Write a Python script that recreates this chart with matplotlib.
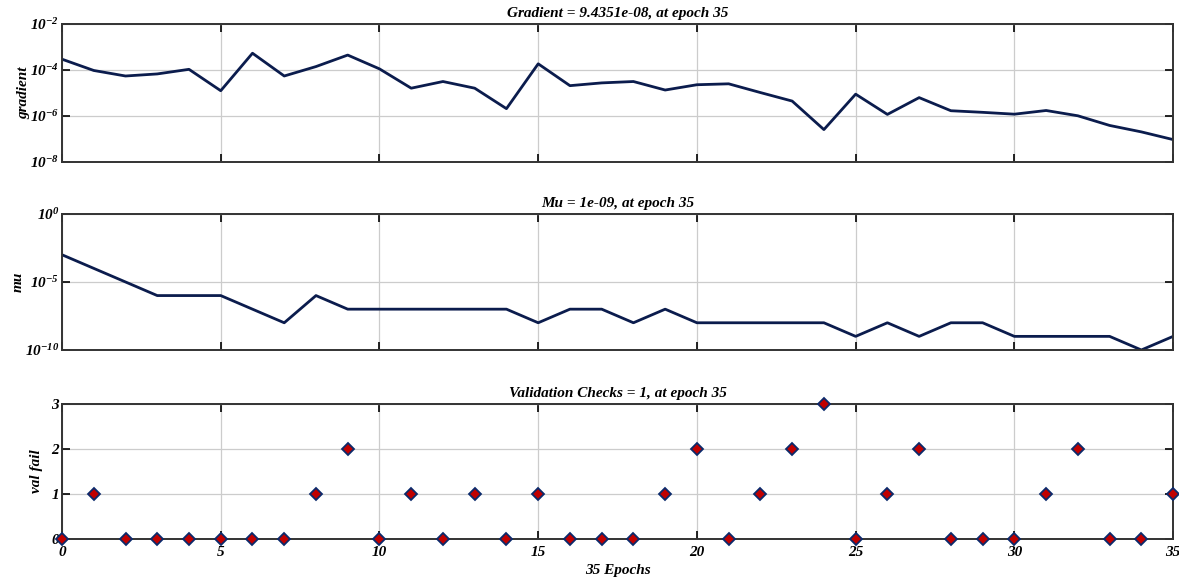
import numpy as np
import matplotlib
matplotlib.use('Agg')
import matplotlib.pyplot as plt
from matplotlib.ticker import FixedLocator, FuncFormatter

# data
epochs = np.arange(0, 36)
grad_log10 = [-3.53, -4.02, -4.26, -4.17, -3.97, -4.90, -3.27, -4.26, -3.85, -3.35,
              -3.95, -4.79, -4.50, -4.79, -5.68, -3.73, -4.68, -4.56, -4.50, -4.87,
              -4.64, -4.60, -4.98, -5.35, -6.59, -5.05, -5.93, -5.20, -5.77, -5.84,
              -5.92, -5.76, -5.99, -6.41, -6.69, -7.025]
mu_log10 = [-3, -4, -5, -6, -6, -6, -7, -8, -6, -7,
            -7, -7, -7, -7, -7, -8, -7, -7, -8, -7,
            -8, -8, -8, -8, -8, -9, -8, -9, -8, -8,
            -9, -9, -9, -9, -10, -9]
val_fail = [0, 1, 0, 0, 0, 0, 0, 0, 1, 2,
            0, 1, 0, 1, 0, 1, 0, 0, 0, 1,
            2, 0, 1, 2, 3, 0, 1, 2, 0, 0,
            0, 1, 2, 0, 0, 1]
x_ticks = [0, 5, 10, 15, 20, 25, 30, 35]

gradient = 10.0 ** np.array(grad_log10)
mu = 10.0 ** np.array(mu_log10)

plt.rcParams['font.family'] = ['Liberation Serif', 'DejaVu Serif']
plt.rcParams['font.weight'] = 'bold'
plt.rcParams['font.style'] = 'italic'
plt.rcParams['mathtext.fontset'] = 'custom'
plt.rcParams['mathtext.rm'] = 'Liberation Serif:bold:italic'
plt.rcParams['mathtext.it'] = 'Liberation Serif:bold:italic'
plt.rcParams['mathtext.bf'] = 'Liberation Serif:bold:italic'
plt.rcParams['mathtext.default'] = 'rm'

line_color = '#0b1c4d'
txt = dict(fontsize=11, fontweight='bold', fontstyle='italic')

fig = plt.figure(figsize=(11.79, 5.83), dpi=100)
ax1 = fig.add_axes([0.0526, 0.7221, 0.9424, 0.2367])
ax2 = fig.add_axes([0.0526, 0.3997, 0.9424, 0.2333])
ax3 = fig.add_axes([0.0526, 0.0755, 0.9424, 0.2316])


def pow_fmt(v, pos):
    e = int(round(np.log10(v)))
    return r'$10^{%d}$' % e


def style(ax):
    ax.set_xlim(0, 35)
    ax.xaxis.set_major_locator(FixedLocator(x_ticks))
    ax.grid(True, color='#cccccc', linewidth=0.9)
    ax.set_axisbelow(True)
    ax.tick_params(direction='in', top=True, right=True, length=6, width=1.2,
                   labelsize=11, colors='black', pad=2)
    ax.tick_params(which='minor', length=0)
    for s in ax.spines.values():
        s.set_linewidth(1.4)
        s.set_color('#333333')


# gradient
ax1.semilogy(epochs, gradient, color=line_color, linewidth=2)
style(ax1)
ax1.set_ylim(1e-8, 1e-2)
ax1.yaxis.set_major_locator(FixedLocator([1e-8, 1e-6, 1e-4, 1e-2]))
ax1.yaxis.set_major_formatter(FuncFormatter(pow_fmt))
ax1.yaxis.set_minor_locator(FixedLocator([]))
ax1.set_xticklabels([])
ax1.set_ylabel('gradient', labelpad=0, **txt)
ax1.set_title('Gradient = 9.4351e-08, at epoch 35', pad=5, **txt)

# mu
ax2.semilogy(epochs, mu, color=line_color, linewidth=2)
style(ax2)
ax2.set_ylim(1e-10, 1e0)
ax2.yaxis.set_major_locator(FixedLocator([1e-10, 1e-5, 1e0]))
ax2.yaxis.set_major_formatter(FuncFormatter(pow_fmt))
ax2.yaxis.set_minor_locator(FixedLocator([]))
ax2.set_xticklabels([])
ax2.set_ylabel('mu', labelpad=0, **txt)
ax2.set_title('Mu = 1e-09, at epoch 35', pad=5, **txt)

# validation checks
ax3.plot(epochs, val_fail, linestyle='none', marker='D', markersize=6.5,
         markerfacecolor='#c00000', markeredgecolor='#0b2a6b', markeredgewidth=1.3,
         clip_on=False, zorder=5)
style(ax3)
ax3.set_ylim(0, 3)
ax3.set_yticks([0, 1, 2, 3])
ax3.tick_params(axis='x', pad=5)
ax3.set_ylabel('val fail', labelpad=6, **txt)
ax3.set_xlabel('35 Epochs', labelpad=4, **txt)
ax3.set_title('Validation Checks = 1, at epoch 35', pad=5, **txt)

for ax in (ax1, ax2, ax3):
    for lab in ax.get_xticklabels() + ax.get_yticklabels():
        lab.set_fontweight('bold')
        lab.set_fontstyle('italic')

fig.savefig('out.png', dpi=100)
